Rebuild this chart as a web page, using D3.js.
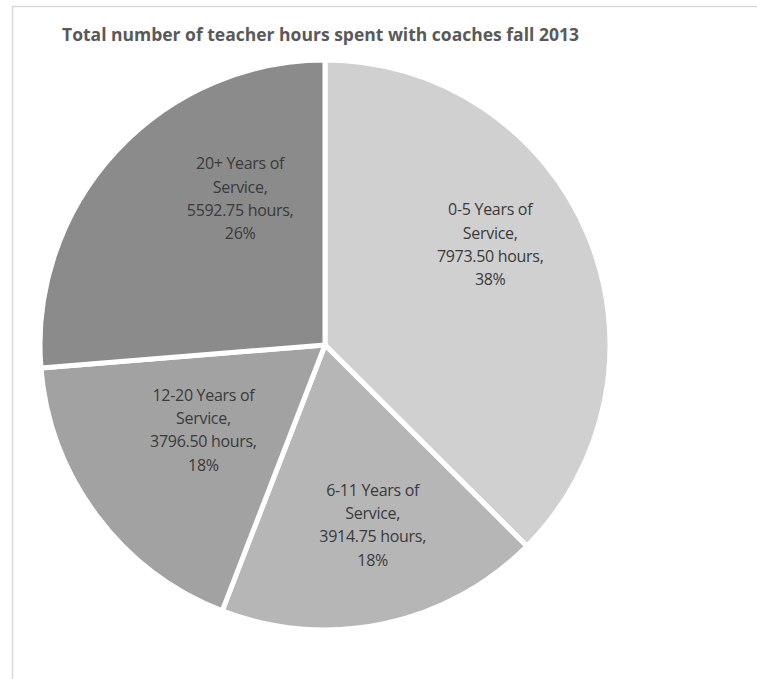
<!DOCTYPE html>
<html>
<head>
<meta charset="utf-8">
<script src="https://cdn.jsdelivr.net/npm/d3@7"></script>
<style>
  body { margin: 0; background: #fff; }
  svg text { font-family: "Open Sans", "Liberation Sans", sans-serif; }
</style>
</head>
<body>
<script>
// chart data
var categories = ["0-5 Years of Service", "6-11 Years of Service", "12-20 Years of Service", "20+ Years of Service"];
var hours = [7973.50, 3914.75, 3796.50, 5592.75];
var percents = ["38%", "18%", "18%", "26%"];
var colours = ["#d0d0d0", "#b6b6b6", "#a2a2a2", "#8b8b8b"];

var title = "Total number of teacher hours spent with coaches fall 2013";

// labels are "best fit" in the original, so nudge them off the centroid a bit
var labelNudge = [[2, -33], [11, 7], [20, -21], [45, -27]];

var width = 757, height = 679;
var cx = 325, cy = 345, radius = 285;

var svg = d3.select("body").append("svg")
  .attr("width", width)
  .attr("height", height);

// chart area border (runs off the right and bottom of the picture)
svg.append("rect")
  .attr("x", 12.5)
  .attr("y", 6.5)
  .attr("width", width)
  .attr("height", height)
  .attr("fill", "none")
  .attr("stroke", "#d9d9d9")
  .attr("stroke-width", 1.5);

svg.append("text")
  .attr("x", 62)
  .attr("y", 41)
  .attr("font-size", 17.5)
  .attr("font-weight", "bold")
  .attr("fill", "#595959")
  .text(title);

var dataArray = categories.map(function(c, i) {
  return { name: c, value: hours[i], pct: percents[i], colour: colours[i], nudge: labelNudge[i] };
});

var pie = d3.pie()
  .sort(null)
  .value(function(d) { return d.value; });

var arc = d3.arc()
  .innerRadius(0)
  .outerRadius(radius);

var labelArc = d3.arc()
  .innerRadius(radius * 0.62)
  .outerRadius(radius * 0.62);

var g = svg.append("g")
  .attr("transform", "translate(" + cx + "," + cy + ")");

var slices = pie(dataArray);

g.selectAll("path")
  .data(slices)
  .enter()
    .append("path")
      .attr("d", arc)
      .attr("fill", function(d) { return d.data.colour; })
      .attr("stroke", "#fff")
      .attr("stroke-width", 5)
      .attr("stroke-linejoin", "round");

// labels: name split over two lines, then hours and percent
var labels = g.selectAll("text.label")
  .data(slices)
  .enter()
    .append("text")
      .attr("class", "label")
      .attr("text-anchor", "middle")
      .attr("font-size", 16)
      .attr("letter-spacing", -0.3)
      .attr("fill", "#3a3a3a")
      .attr("transform", function(d) {
        var c = labelArc.centroid(d);
        return "translate(" + (c[0] + d.data.nudge[0]) + "," + (c[1] + d.data.nudge[1]) + ")";
      });

labels.each(function(d) {
  var name = d.data.name;
  var cut = name.indexOf(" of ") + 3;
  var lines = [
    name.slice(0, cut),
    name.slice(cut + 1) + ",",
    d3.format(".2f")(d.data.value) + " hours,",
    d.data.pct
  ];
  var t = d3.select(this);
  lines.forEach(function(line, i) {
    t.append("tspan")
      .attr("x", 0)
      .attr("y", -29 + i * 23.3)
      .text(line);
  });
});
</script>
</body>
</html>
